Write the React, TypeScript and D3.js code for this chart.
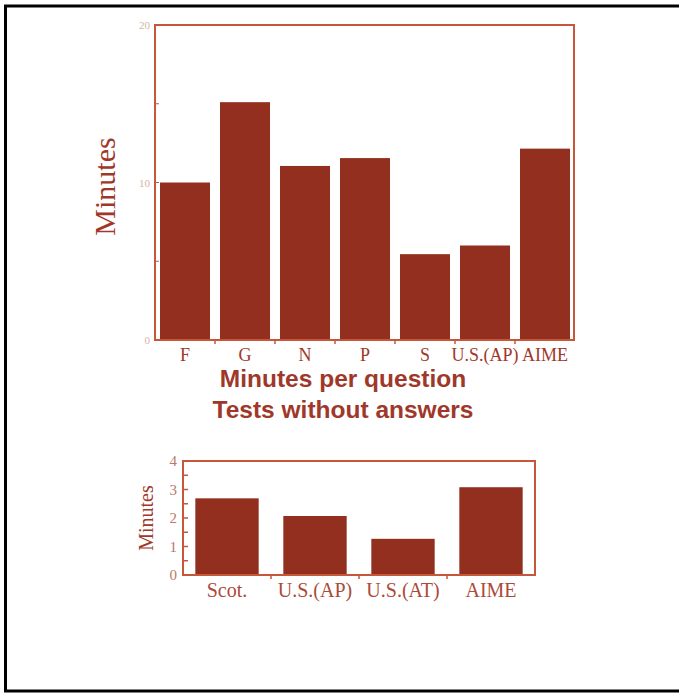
import * as d3 from 'd3'
import { useEffect, useRef } from 'react'

// top chart: minutes per question, tests without answers
const topCategories = ['F', 'G', 'N', 'P', 'S', 'U.S.(AP)', 'AIME']
const topValues = [10.0, 15.1, 11.05, 11.55, 5.45, 6.0, 12.15]
const topTicks = [0, 10, 20]
const topMinorTicks = [5, 15]

// bottom chart
const bottomCategories = ['Scot.', 'U.S.(AP)', 'U.S.(AT)', 'AIME']
const bottomValues = [2.69, 2.07, 1.27, 3.08]
const bottomTicks = [0, 1, 2, 3, 4]
const bottomMinorTicks = [0.5, 1.5, 2.5, 3.5]

const titleLines = ['Minutes per question', 'Tests without answers']

const barColor = '#922f1f'
const frameColor = '#c6573a'
const textColor = '#a0382a'
const serif = '"Liberation Serif", "DejaVu Serif", serif'
const sans = '"Liberation Sans", Arial, sans-serif'

const W = 679
const H = 696

const App = () => {
  const ref = useRef<SVGSVGElement>(null)

  useEffect(() => {
    const svg = d3.select(ref.current)
    svg.selectAll('*').remove()
    svg.attr('width', W).attr('height', H)

    svg.append('rect').attr('width', W).attr('height', H).attr('fill', '#fff')

    // outer page frame (no right edge)
    const border = svg.append('g').attr('stroke', '#000').attr('stroke-width', 3)
    border.append('line').attr('x1', 4).attr('x2', W).attr('y1', 6).attr('y2', 6)
    border.append('line').attr('x1', 4).attr('x2', W).attr('y1', 691).attr('y2', 691)
    border.append('line').attr('x1', 5.5).attr('x2', 5.5).attr('y1', 6).attr('y2', 691)

    // ---------- top chart ----------
    const x1 = d3
      .scaleBand()
      .domain(topCategories)
      .range([155, 575])
      .paddingInner(1 / 6)
      .paddingOuter(1 / 12)
    const y1 = d3.scaleLinear().domain([0, 20]).range([340, 25])

    const g1 = svg.append('g')
    g1.selectAll('rect.bar')
      .data(topValues)
      .enter()
      .append('rect')
      .attr('class', 'bar')
      .attr('x', (d, i) => x1(topCategories[i]) as number)
      .attr('y', (d) => y1(d))
      .attr('width', x1.bandwidth())
      .attr('height', (d) => y1(0) - y1(d))
      .attr('fill', barColor)

    g1.append('rect')
      .attr('x', 155)
      .attr('y', y1(20))
      .attr('width', 419)
      .attr('height', y1(0) - y1(20))
      .attr('fill', 'none')
      .attr('stroke', frameColor)
      .attr('stroke-width', 2)

    // minor ticks inside left edge
    g1.selectAll('line.minor')
      .data(topMinorTicks.concat(topTicks))
      .enter()
      .append('line')
      .attr('x1', 155)
      .attr('x2', 159)
      .attr('y1', (d) => y1(d))
      .attr('y2', (d) => y1(d))
      .attr('stroke', frameColor)
      .attr('stroke-width', 1)

    // x ticks at band boundaries
    const step1 = x1.step()
    g1.selectAll('line.xt')
      .data(topCategories.slice(1))
      .enter()
      .append('line')
      .attr('x1', (d) => (x1(d) as number) - (step1 - x1.bandwidth()) / 2)
      .attr('x2', (d) => (x1(d) as number) - (step1 - x1.bandwidth()) / 2)
      .attr('y1', y1(0))
      .attr('y2', y1(0) + 4)
      .attr('stroke', frameColor)
      .attr('stroke-width', 1.5)

    g1.selectAll('text.yt')
      .data(topTicks)
      .enter()
      .append('text')
      .attr('x', 150)
      .attr('y', (d) => y1(d) + 4)
      .attr('text-anchor', 'end')
      .attr('font-family', serif)
      .attr('font-size', 11)
      .attr('fill', '#d4b4a6')
      .text((d) => d)

    g1.selectAll('text.xl')
      .data(topCategories)
      .enter()
      .append('text')
      .attr('x', (d) => (x1(d) as number) + x1.bandwidth() / 2)
      .attr('y', 361)
      .attr('text-anchor', 'middle')
      .attr('font-family', serif)
      .attr('font-size', 18)
      .attr('fill', textColor)
      .text((d) => d)

    g1.append('text')
      .attr('transform', `translate(115,${y1(10) + 4}) rotate(-90)`)
      .attr('text-anchor', 'middle')
      .attr('font-family', serif)
      .attr('font-size', 30)
      .attr('fill', textColor)
      .text('Minutes')

    svg.selectAll('text.title')
      .data(titleLines)
      .enter()
      .append('text')
      .attr('x', 343)
      .attr('y', (d, i) => 387 + i * 31)
      .attr('text-anchor', 'middle')
      .attr('font-family', sans)
      .attr('font-weight', 'bold')
      .attr('font-size', 24.5)
      .attr('fill', textColor)
      .text((d) => d)

    // ---------- bottom chart ----------
    const x2 = d3
      .scaleBand()
      .domain(bottomCategories)
      .range([183, 535])
      .paddingInner(0.28)
      .paddingOuter(0.14)
    const y2 = d3.scaleLinear().domain([0, 4]).range([575, 461])

    const g2 = svg.append('g')
    g2.selectAll('rect.bar')
      .data(bottomValues)
      .enter()
      .append('rect')
      .attr('x', (d, i) => x2(bottomCategories[i]) as number)
      .attr('y', (d) => y2(d))
      .attr('width', x2.bandwidth())
      .attr('height', (d) => y2(0) - y2(d))
      .attr('fill', barColor)

    g2.append('rect')
      .attr('x', 183)
      .attr('y', y2(4))
      .attr('width', 352)
      .attr('height', y2(0) - y2(4))
      .attr('fill', 'none')
      .attr('stroke', frameColor)
      .attr('stroke-width', 2)

    g2.selectAll('line.minor')
      .data(bottomMinorTicks.concat(bottomTicks))
      .enter()
      .append('line')
      .attr('x1', 183)
      .attr('x2', 188)
      .attr('y1', (d) => y2(d))
      .attr('y2', (d) => y2(d))
      .attr('stroke', frameColor)
      .attr('stroke-width', 1.5)

    const step2 = x2.step()
    g2.selectAll('line.xt')
      .data(bottomCategories.slice(1))
      .enter()
      .append('line')
      .attr('x1', (d) => (x2(d) as number) - (step2 - x2.bandwidth()) / 2)
      .attr('x2', (d) => (x2(d) as number) - (step2 - x2.bandwidth()) / 2)
      .attr('y1', y2(0))
      .attr('y2', y2(0) + 4)
      .attr('stroke', frameColor)
      .attr('stroke-width', 1.5)

    g2.selectAll('text.yt')
      .data(bottomTicks)
      .enter()
      .append('text')
      .attr('x', 177)
      .attr('y', (d) => y2(d) + 5)
      .attr('text-anchor', 'end')
      .attr('font-family', serif)
      .attr('font-size', 15)
      .attr('fill', '#b87a68')
      .text((d) => d)

    g2.selectAll('text.xl')
      .data(bottomCategories)
      .enter()
      .append('text')
      .attr('x', (d) => (x2(d) as number) + x2.bandwidth() / 2)
      .attr('y', 597)
      .attr('text-anchor', 'middle')
      .attr('font-family', serif)
      .attr('font-size', 20)
      .attr('fill', '#ac4a38')
      .text((d) => d)

    g2.append('text')
      .attr('transform', `translate(153,${y2(2)}) rotate(-90)`)
      .attr('text-anchor', 'middle')
      .attr('font-family', serif)
      .attr('font-size', 20)
      .attr('fill', textColor)
      .text('Minutes')
  }, [])

  return (
    <div style={{ position: 'absolute', left: 0, top: 0 }}>
      <svg ref={ref}></svg>
    </div>
  )
}

export default App
